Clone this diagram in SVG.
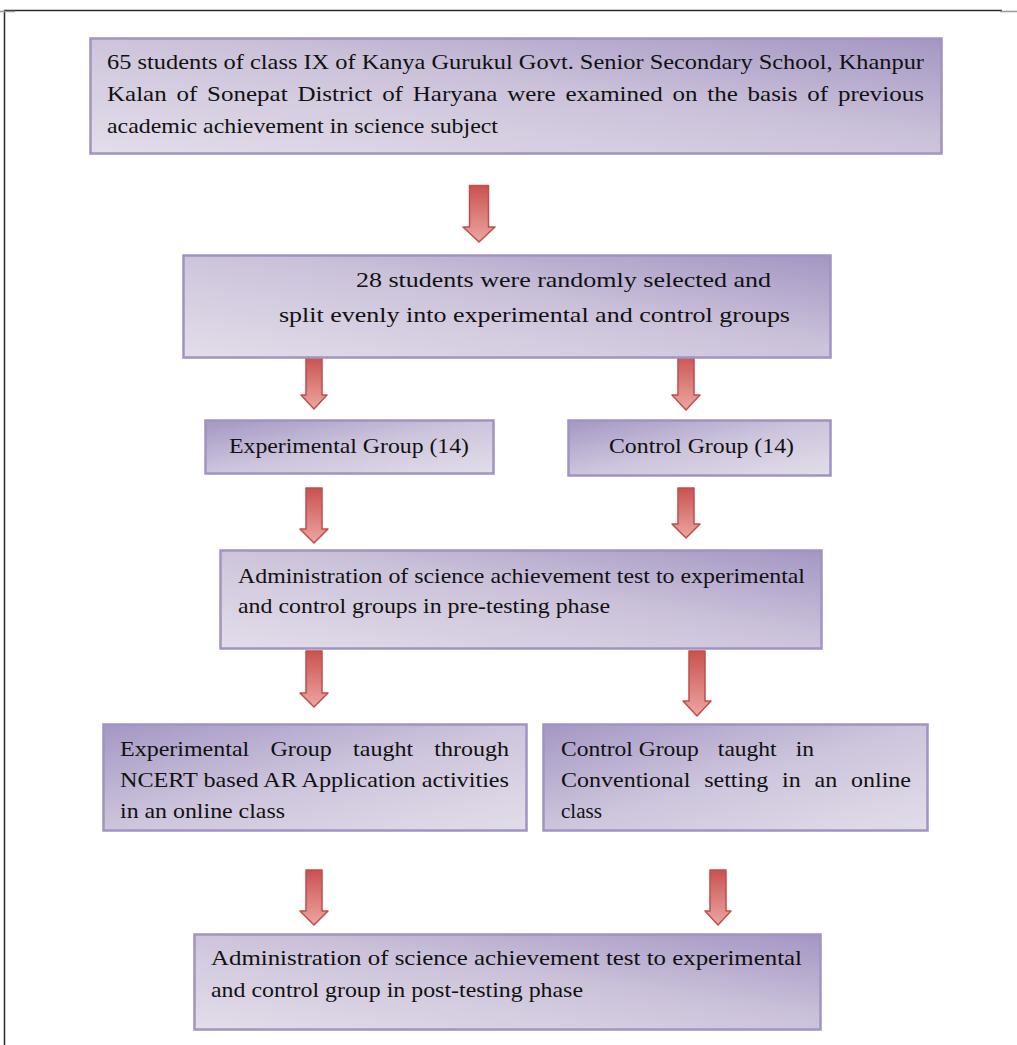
<svg xmlns="http://www.w3.org/2000/svg" width="1017" height="1045" viewBox="0 0 1017 1045">
<defs>
<linearGradient id="gA" x1="0" y1="1" x2="1" y2="0">
<stop offset="0" stop-color="#e3dde9"/>
<stop offset="0.55" stop-color="#cbc2da"/>
<stop offset="1" stop-color="#a496c3"/>
</linearGradient>
<linearGradient id="gB" x1="0" y1="0" x2="1" y2="1">
<stop offset="0" stop-color="#a497c4"/>
<stop offset="0.5" stop-color="#cdc5dc"/>
<stop offset="1" stop-color="#e2dde9"/>
</linearGradient>
<linearGradient id="gR" x1="0" y1="0" x2="0" y2="1">
<stop offset="0" stop-color="#c9524f"/>
<stop offset="1" stop-color="#eca6a2"/>
</linearGradient>
</defs>
<style>
.box{stroke:#a193c2;stroke-width:2.5}
.a{fill:url(#gA)}
.b{fill:url(#gB)}
text{font-family:"Liberation Serif","Times New Roman",serif;font-size:21px;fill:#111}
.lg{font-size:22px}
.arr{fill:url(#gR);stroke:#bf4e4b;stroke-width:1.5;stroke-linejoin:round}
.frame{stroke:#2a2a2a;stroke-width:1.5;fill:none}
</style>
<g id="frame">
<path class="frame" d="M4.5,1045 V10.5 H1002"/>
<path d="M0,11.5 H15 M1000,11.5 H1017" stroke="#999" stroke-width="1.5"/>
</g>
<g id="connectors">
<path class="arr" d="M469.5,185.5 H488.5 V227 H495 L479,242 L463,227 H469.5 Z"/>
<path class="arr" d="M306,357 H322 V395 H327 L314,409 L301,395 H306 Z"/>
<path class="arr" d="M678,353 H694 V395 H700 L686,410 L672,395 H678 Z"/>
<path class="arr" d="M306,488 H322 V529 H328 L314,543 L300,529 H306 Z"/>
<path class="arr" d="M678,488 H694 V524 H700 L686,538 L672,524 H678 Z"/>
<path class="arr" d="M306,651 H322 V693 H328 L314,707 L300,693 H306 Z"/>
<path class="arr" d="M689,651 H705 V701 H711 L697,716 L683,701 H689 Z"/>
<path class="arr" d="M306,870 H322 V911 H328 L314,925 L300,911 H306 Z"/>
<path class="arr" d="M710,870 H726 V911 H731 L718,925 L705,911 H710 Z"/>
</g>
<g id="n1">
<rect class="box a" x="90.5" y="38.5" width="851" height="115"/>
<text x="107" y="69" textLength="817" lengthAdjust="spacingAndGlyphs">65 students of class IX of Kanya Gurukul Govt. Senior Secondary School, Khanpur</text>
<text x="107" y="101" textLength="817" lengthAdjust="spacingAndGlyphs" word-spacing="3">Kalan of Sonepat District of Haryana were examined on the basis of previous</text>
<text x="107" y="133" textLength="391" lengthAdjust="spacingAndGlyphs">academic achievement in science subject</text>
</g>
<g id="n2">
<rect class="box a" x="183.5" y="255.5" width="647" height="102"/>
<text class="lg" x="356" y="287" textLength="415" lengthAdjust="spacingAndGlyphs">28 students were randomly selected and</text>
<text class="lg" x="279" y="322" textLength="511" lengthAdjust="spacingAndGlyphs">split evenly into experimental and control groups</text>
</g>
<g id="n3">
<rect class="box b" x="205.5" y="420.5" width="288" height="53"/>
<text class="lg" x="229" y="453" textLength="240" lengthAdjust="spacingAndGlyphs">Experimental Group (14)</text>
</g>
<g id="n4">
<rect class="box b" x="568.5" y="420.5" width="262" height="55"/>
<text class="lg" x="609" y="453" textLength="185" lengthAdjust="spacingAndGlyphs">Control Group (14)</text>
</g>
<g id="n5">
<rect class="box a" x="220.5" y="550.5" width="601" height="98"/>
<text x="238" y="583" textLength="567" lengthAdjust="spacingAndGlyphs">Administration of science achievement test to experimental</text>
<text x="238" y="613" textLength="372" lengthAdjust="spacingAndGlyphs">and control groups in pre-testing phase</text>
</g>
<g id="n6">
<rect class="box b" x="103.5" y="724.5" width="423" height="106"/>
<text class="lg" x="120" y="756" textLength="389" lengthAdjust="spacingAndGlyphs" word-spacing="14">Experimental Group taught through</text>
<text class="lg" x="120" y="787" textLength="389" lengthAdjust="spacingAndGlyphs">NCERT based AR Application activities</text>
<text class="lg" x="120" y="818" textLength="165" lengthAdjust="spacingAndGlyphs">in an online class</text>
</g>
<g id="n7">
<rect class="box b" x="543.5" y="724.5" width="384" height="106"/>
<text class="lg" x="561" y="756" textLength="253" lengthAdjust="spacingAndGlyphs"><tspan>Control Group</tspan><tspan word-spacing="12.3"> taught in</tspan></text>
<text class="lg" x="561" y="787" textLength="350" lengthAdjust="spacingAndGlyphs" word-spacing="7.2">Conventional setting in an online</text>
<text class="lg" x="561" y="818" textLength="41" lengthAdjust="spacingAndGlyphs">class</text>
</g>
<g id="n8">
<rect class="box a" x="194.5" y="934.5" width="626" height="95"/>
<text class="lg" x="211" y="965" textLength="591" lengthAdjust="spacingAndGlyphs">Administration of science achievement test to experimental</text>
<text class="lg" x="211" y="997" textLength="372" lengthAdjust="spacingAndGlyphs">and control group in post-testing phase</text>
</g>
</svg>
